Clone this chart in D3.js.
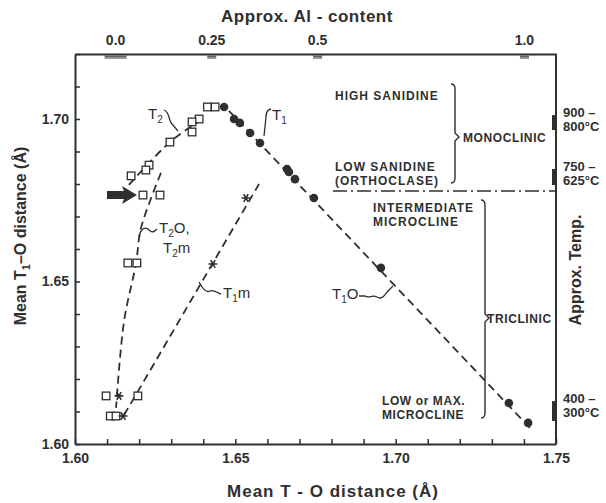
<!DOCTYPE html>
<html>
<head>
<meta charset="utf-8">
<script src="https://cdn.jsdelivr.net/npm/d3@7"></script>
<style>
body { margin: 0; background: #fff; }
text { font-family: "Liberation Sans", Arial, sans-serif; fill: #2f2f2f; }
.axis path, .axis line { stroke: #2f2f2f; }
</style>
</head>
<body>
<script>
// T1 sites (filled circles), Mean T-O vs Mean T1-O
var circlesT1 = [[1.6465,1.7037],[1.6496,1.7000],[1.6514,1.6988],[1.6546,1.6957],[1.6577,1.6926],
  [1.6661,1.6846],[1.6667,1.6837],[1.6686,1.6815],[1.6745,1.6757],[1.6954,1.6542],[1.7353,1.6126],[1.7413,1.6065]];
// T2 / T2O / T2m sites (open squares)
var squaresT2 = [[1.6413,1.7037],[1.6437,1.7037],[1.6387,1.7000],[1.6365,1.6991],[1.6365,1.6960],
  [1.6296,1.6929],[1.6231,1.6858],[1.6221,1.6843],[1.6175,1.6825],[1.6212,1.6766],[1.6265,1.6766],
  [1.6165,1.6557],[1.6193,1.6557],[1.6097,1.6148],[1.6196,1.6148],[1.6110,1.6086],[1.6128,1.6086]];
// T1m sites (stars)
var starsT1m = [[1.6137,1.6148],[1.6150,1.6086],[1.6430,1.6554],[1.6533,1.6757]];

// dashed trend lines
var lineT1O = [[1.6480,1.7025],[1.7422,1.6046]];
var lineT2 = [[1.6168,1.6797],[1.6296,1.6929],[1.6384,1.6991]];
var lineT2O = [[1.6268,1.6834],[1.6206,1.6665],[1.6190,1.6554],[1.6153,1.6378],[1.6128,1.6111]];
var lineT1m = [[1.6153,1.6089],[1.6574,1.6800]];

// top axis: approx. Al content at Mean T-O positions
var alLabels = ['0.0', '0.25', '0.5', '1.0'];
var alPositions = [1.6125, 1.6425, 1.6755, 1.7400];

// right axis: approx. temperature ranges on the T1-O scale
var tempLabels = [['900 –', '800°C'], ['750 –', '625°C'], ['400 –', '300°C']];
var tempRanges = [[1.6966, 1.7012], [1.6797, 1.6846], [1.6071, 1.6132]];

var xTicks = d3.range(0, 16).map(function (i) { return 1.60 + i * 0.01; });
var yTicks = d3.range(0, 13).map(function (i) { return 1.60 + i * 0.01; });
var xLabelled = [1.60, 1.65, 1.70, 1.75];
var yLabelled = [1.60, 1.65, 1.70];

var W = 606, H = 503;
var svg = d3.select('body').append('svg').attr('width', W).attr('height', H);

var x = d3.scaleLinear().domain([1.60, 1.75]).range([75, 556]);
var y = d3.scaleLinear().domain([1.60, 1.72]).range([444, 54]);
var ink = '#2f2f2f';

function isLab(list, v) {
  return list.some(function (t) { return Math.abs(t - v) < 1e-6; });
}

// bottom axis
var xAxis = d3.axisBottom(x).tickValues(xTicks).tickSizeInner(-5).tickSizeOuter(0)
  .tickFormat(function (d) { return isLab(xLabelled, d) ? d.toFixed(2) : ''; });
var gx = svg.append('g').attr('class', 'axis').attr('transform', 'translate(0,' + y(1.60) + ')').call(xAxis);
gx.select('.domain').attr('stroke-width', 2);
gx.selectAll('line').attr('stroke-width', 1.5);
gx.selectAll('text').attr('dy', '1.15em').style('font-size', '14px').style('font-weight', 'bold');

// left axis
var yAxis = d3.axisLeft(y).tickValues(yTicks).tickSizeInner(-5).tickSizeOuter(0)
  .tickFormat(function (d) { return isLab(yLabelled, d) ? d.toFixed(2) : ''; });
var gy = svg.append('g').attr('class', 'axis').attr('transform', 'translate(' + x(1.60) + ',0)').call(yAxis);
gy.select('.domain').attr('stroke-width', 2);
gy.selectAll('line').attr('stroke-width', 1.5);
gy.selectAll('text').attr('x', -6).style('font-size', '14px').style('font-weight', 'bold');

// top axis (Al content)
var topAxis = d3.axisTop(x).tickValues(alPositions).tickSizeInner(-5).tickSizeOuter(0)
  .tickFormat(function (d, i) { return alLabels[i]; });
var gt = svg.append('g').attr('class', 'axis').attr('transform', 'translate(0,' + y(1.72) + ')').call(topAxis);
gt.select('.domain').attr('stroke-width', 2);
gt.selectAll('.tick line').attr('stroke-width', function (d, i) { return i === 0 ? 22 : 9; })
  .attr('stroke-dasharray', '1,0.8');
gt.selectAll('text').attr('dy', '-0.4em').style('font-size', '14px').style('font-weight', 'bold');

// right axis (temperature)
svg.append('line').attr('x1', x(1.75)).attr('x2', x(1.75)).attr('y1', y(1.72)).attr('y2', y(1.60))
  .attr('stroke', ink).attr('stroke-width', 2);
svg.selectAll('.tblock').data(tempRanges).enter().append('rect').attr('class', 'tblock')
  .attr('x', x(1.75) - 4).attr('width', 4)
  .attr('y', function (d) { return y(d[1]); })
  .attr('height', function (d) { return y(d[0]) - y(d[1]); })
  .attr('fill', ink);
var tl = svg.selectAll('.tlab').data(tempLabels).enter().append('text').attr('class', 'tlab')
  .attr('x', x(1.75) + 7)
  .attr('y', function (d, i) { return y(tempRanges[i][1]) + 2; })
  .style('font-size', '13px').style('font-weight', 'bold');
tl.append('tspan').text(function (d) { return d[0]; });
tl.append('tspan').attr('x', x(1.75) + 7).attr('dy', 14).text(function (d) { return d[1]; });

// axis titles
svg.append('text').attr('x', 307).attr('y', 22).attr('text-anchor', 'middle')
  .style('font-size', '17px').style('font-weight', 'bold').style('letter-spacing', '0.5px')
  .text('Approx.  Al - content');
svg.append('text').attr('x', 333).attr('y', 497).attr('text-anchor', 'middle')
  .style('font-size', '17px').style('font-weight', 'bold').style('letter-spacing', '1px')
  .text('Mean  T - O  distance (Å)');
var yl = svg.append('text').attr('transform', 'translate(26,236) rotate(-90)').attr('text-anchor', 'middle')
  .style('font-size', '16px').style('font-weight', 'bold');
yl.append('tspan').text('Mean  T');
yl.append('tspan').attr('dy', 4).style('font-size', '11px').text('1');
yl.append('tspan').attr('dy', -4).text('–O  distance (Å)');
svg.append('text').attr('transform', 'translate(581,270) rotate(-90)').attr('text-anchor', 'middle')
  .style('font-size', '16px').style('font-weight', 'bold').text('Approx.  Temp.');

// dashed lines
var line = d3.line().x(function (d) { return x(d[0]); }).y(function (d) { return y(d[1]); });
var curved = d3.line().curve(d3.curveCatmullRom).x(function (d) { return x(d[0]); }).y(function (d) { return y(d[1]); });
[[lineT1O, line], [lineT2, curved], [lineT2O, curved], [lineT1m, line]].forEach(function (p) {
  svg.append('path').attr('d', p[1](p[0])).attr('fill', 'none').attr('stroke', ink)
    .attr('stroke-width', 1.8).attr('stroke-dasharray', '8,5');
});

// markers
svg.selectAll('.c').data(circlesT1).enter().append('circle').attr('class', 'c')
  .attr('cx', function (d) { return x(d[0]); }).attr('cy', function (d) { return y(d[1]); })
  .attr('r', 4.3).attr('fill', ink);
svg.selectAll('.s').data(squaresT2).enter().append('rect').attr('class', 's')
  .attr('x', function (d) { return x(d[0]) - 3.8; }).attr('y', function (d) { return y(d[1]) - 3.8; })
  .attr('width', 7.6).attr('height', 7.6).attr('fill', '#fff').attr('stroke', ink).attr('stroke-width', 1.3);
var star = d3.symbol().type(d3.symbolAsterisk).size(55);
svg.selectAll('.st').data(starsT1m).enter().append('path').attr('class', 'st')
  .attr('transform', function (d) { return 'translate(' + x(d[0]) + ',' + y(d[1]) + ') rotate(30)'; })
  .attr('d', star).attr('fill', 'none').attr('stroke', ink).attr('stroke-width', 1.6);

// phase-field annotations
function block(lines, x0, y0, size, spacing) {
  var t = svg.append('text').attr('x', x0).attr('y', y0)
    .style('font-size', size + 'px').style('font-weight', 'bold').style('letter-spacing', spacing + 'px');
  lines.forEach(function (s, i) {
    t.append('tspan').attr('x', x0).attr('dy', i ? 14 : 0).text(s);
  });
}
block(['HIGH SANIDINE'], 335, 100, 12, 1);
block(['LOW SANIDINE', '(ORTHOCLASE)'], 335, 171, 12, 1);
block(['INTERMEDIATE', 'MICROCLINE'], 373, 212, 12, 1);
block(['LOW or MAX.', 'MICROCLINE'], 382, 405, 12, 0.6);
block(['MONOCLINIC'], 463, 142, 12, 0.6);
block(['TRICLINIC'], 487, 323, 12, 0.6);

function brace(bx, y0, y1, ym) {
  var p = 'M' + (bx - 4) + ',' + y0 + ' Q' + bx + ',' + y0 + ' ' + bx + ',' + (y0 + 5) +
    ' L' + bx + ',' + (ym - 4) + ' L' + (bx + 4) + ',' + ym + ' L' + bx + ',' + (ym + 4) +
    ' L' + bx + ',' + (y1 - 5) + ' Q' + bx + ',' + y1 + ' ' + (bx - 4) + ',' + y1;
  svg.append('path').attr('d', p).attr('fill', 'none').attr('stroke', ink).attr('stroke-width', 1.4);
}
brace(455, 84, 183, 137);
brace(485, 200, 418, 318);

svg.append('line').attr('x1', 333).attr('x2', x(1.75)).attr('y1', 191).attr('y2', 191)
  .attr('stroke', ink).attr('stroke-width', 1.6).attr('stroke-dasharray', '14,4,2,4');

// site labels
function site(base, sub, rest, lx, ly) {
  var t = svg.append('text').attr('x', lx).attr('y', ly).style('font-size', '15px');
  t.append('tspan').text(base);
  t.append('tspan').attr('dy', 4).style('font-size', '10px').text(sub);
  if (rest) t.append('tspan').attr('dy', -4).text(rest);
}
site('T', '2', '', 148, 119);
site('T', '1', '', 272, 120);
site('T', '2', 'O,', 159, 233);
site('T', '2', 'm', 163, 253);
site('T', '1', 'm', 223, 298);
site('T', '1', 'O', 332, 299);

var leaders = [
  'M164,110 C170,112 168,120 172,124 L178,131',
  'M271,109 Q266,110 266,117 L264,136',
  'M139,237 C141,227 146,227 149,230 S154,232 157,229',
  'M199,282 C203,289 206,293 210,291 S217,293 221,294',
  'M359,296 L365,296 C369,299 372,294 377,297 S384,296 388,291 L393,286'
];
leaders.forEach(function (d) {
  svg.append('path').attr('d', d).attr('fill', 'none').attr('stroke', ink).attr('stroke-width', 1.3);
});

// thick arrow pointing at the marked T2 pair
var ay = y(squaresT2[9][1]), ax = x(squaresT2[9][0]) - 6;
svg.append('path')
  .attr('d', 'M' + (ax - 30) + ',' + (ay - 4) + ' L' + (ax - 13) + ',' + (ay - 4) + ' L' + (ax - 15) + ',' + (ay - 9) +
    ' L' + ax + ',' + ay + ' L' + (ax - 15) + ',' + (ay + 9) + ' L' + (ax - 13) + ',' + (ay + 4) +
    ' L' + (ax - 30) + ',' + (ay + 4) + ' Z')
  .attr('fill', ink);
</script>
</body>
</html>
